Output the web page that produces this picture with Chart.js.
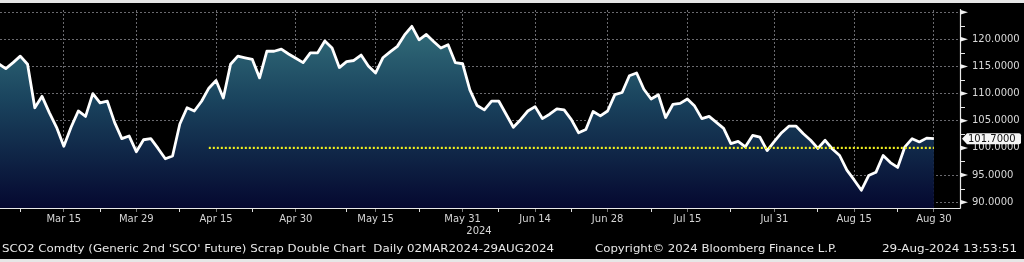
<!DOCTYPE html>
<html><head><meta charset="utf-8">
<script src="https://cdn.jsdelivr.net/npm/chart.js@4.4.1/dist/chart.umd.min.js"></script>
<style>
html,body{margin:0;padding:0;background:#000;overflow:hidden;}
canvas{display:block;}
</style></head><body>
<canvas id="c" width="1024" height="262"></canvas>
<script>
// ---------- data ----------
const startDate = '2024-03-04';           // first weekday of the series (daily, weekdays)
const prices = [
 115.5,114.6,115.7,116.9,115.4,107.4,109.5,106.5,103.8,100.3,
 103.8,106.8,105.8,110.0,108.3,108.6,104.7,101.7,102.2, 99.3,
 101.5,101.7, 99.9, 98.0, 98.5,104.4,107.4,106.8,108.6,111.0,
 112.4,109.2,115.4,116.9,116.6,116.3,112.9,117.8,117.8,118.2,
 117.3,116.5,115.7,117.5,117.5,119.7,118.4,114.8,115.9,116.1,
 117.1,115.1,113.8,116.6,117.7,118.7,120.8,122.4,119.9,120.9,
 119.6,118.4,119.0,115.7,115.5,110.7,107.8,107.0,108.6,108.6,
 106.2,103.8,105.2,106.8,107.6,105.4,106.2,107.2,107.0,105.2,
 102.8,103.4,106.7,105.9,106.8,109.8,110.2,113.3,113.8,110.8,
 109.0,109.8,105.6,108.0,108.2,109.0,107.7,105.4,105.8,104.7,
 103.6,100.8,101.2,100.2,102.3,102.0, 99.5,101.2,102.8,104.0,
 104.0,102.6,101.4, 99.9,101.4, 99.8, 98.6, 95.9, 94.1, 92.2,
  94.9, 95.5, 98.6, 97.3, 96.4,100.2,101.7,101.1,101.8,101.7
];
const majorTickLabels = ['Mar 15','Mar 29','Apr 15','Apr 30','May 15','May 31','Jun 14','Jun 28','Jul 15','Jul 31','Aug 15','Aug 30'];
const minorTickLabels = ['Mar 7','Mar 22','Apr 8','Apr 22','May 9','May 23','Jun 7','Jun 21','Jul 8','Jul 23','Aug 8','Aug 23'];
const yearLabel = '2024';
const yTickValues = [90,95,100,105,110,115,120,125];
const yMinorTickValues = [92.5,97.5,102.5,107.5,112.5,117.5,122.5];
const refLevel = 100.0;
const refStartLabel = 'Apr 12';
const lastValueText = '101.7000';
const footerLeft = "SCO2 Comdty (Generic 2nd 'SCO' Future) Scrap Double Chart  Daily 02MAR2024-29AUG2024";
const footerMid = 'Copyright\u00A9 2024 Bloomberg Finance L.P.';
const footerRight = '29-Aug-2024 13:53:51';

// ---------- helpers ----------
const monthNames=['Jan','Feb','Mar','Apr','May','Jun','Jul','Aug','Sep','Oct','Nov','Dec'];
function weekdayLabels(start,n){
  const out=[]; const d=new Date(start+'T00:00:00Z');
  while(out.length<n){ const wd=d.getUTCDay(); if(wd!==0&&wd!==6) out.push(monthNames[d.getUTCMonth()]+' '+d.getUTCDate()); d.setUTCDate(d.getUTCDate()+1); }
  return out;
}
const dateLabels = weekdayLabels(startDate, prices.length);
const tickList = majorTickLabels.map(l=>({idx:dateLabels.indexOf(l),label:l,major:true}))
  .concat(minorTickLabels.map(l=>({idx:dateLabels.indexOf(l),label:'',major:false})))
  .sort((a,b)=>a.idx-b.idx);
const pricePoints = prices.map((v,i)=>({x:i,y:v}));
const refPoints = [{x:dateLabels.indexOf(refStartLabel),y:refLevel},{x:prices.length-1,y:refLevel}];
const lastValue = prices[prices.length-1];

const FONT = 'DejaVu Sans';
const gridCol = 'rgba(125,125,130,0.85)';

function fitText(ctx,text,x,y,w){
  const m=ctx.measureText(text).width;
  ctx.save(); ctx.translate(x,y); ctx.scale(w/m,1); ctx.fillText(text,0,0); ctx.restore();
}

const bbgPlugin = {
  id:'bbg',
  beforeDraw(chart){
    const c=chart.ctx; c.save(); c.fillStyle='#000'; c.fillRect(0,0,chart.width,chart.height); c.restore();
  },
  afterDraw(chart){
    const c=chart.ctx, a=chart.chartArea, ys=chart.scales.y;
    c.save();
    // outer light strips
    c.fillStyle='#e6e6e6'; c.fillRect(0,0,chart.width,3); c.fillRect(0,259,chart.width,3);
    // axis lines
    c.strokeStyle='#e8e8e8'; c.lineWidth=1.2;
    c.beginPath(); c.moveTo(a.left,a.bottom+0.5); c.lineTo(a.right+0.5,a.bottom+0.5);
    c.moveTo(a.right+0.5,a.top-1); c.lineTo(a.right+0.5,a.bottom+0.5); c.stroke();
    // y tick arrows
    c.fillStyle='#f0f0f0';
    yTickValues.forEach(v=>{ const py=ys.getPixelForValue(v);
      c.beginPath(); c.moveTo(a.right,py-2.5); c.lineTo(a.right+8,py); c.lineTo(a.right,py+2.5); c.closePath(); c.fill(); });
    c.beginPath();
    yMinorTickValues.forEach(v=>{ const py=Math.round(ys.getPixelForValue(v))+0.5; c.moveTo(a.right,py); c.lineTo(a.right+5,py); });
    c.lineWidth=1; c.stroke();
    // year label
    c.fillStyle='#d6d6d6'; c.font='10px '+FONT; c.textAlign='center'; c.textBaseline='middle';
    c.fillText(yearLabel,479,231);
    // last value tag
    const py=ys.getPixelForValue(lastValue);
    c.fillStyle='#f6f6f6';
    c.beginPath(); c.moveTo(a.right+2,py); c.lineTo(a.right+7,py-5.5); c.lineTo(1019,py-5.5);
    c.quadraticCurveTo(1021,py-5.5,1021,py-3.5); c.lineTo(1021,py+3.5); c.quadraticCurveTo(1021,py+5.5,1019,py+5.5);
    c.lineTo(a.right+7,py+5.5); c.closePath(); c.fill();
    c.fillStyle='#111'; c.textAlign='left'; c.font='10px '+FONT;
    c.fillText(lastValueText,968,py+0.5);
    // footer
    c.fillStyle='#e8e8e8'; c.font='11px '+FONT; c.textAlign='left'; c.textBaseline='middle';
    fitText(c,footerLeft,2,249,552);
    fitText(c,footerMid,595,249,242);
    fitText(c,footerRight,882,249,135);
    c.restore();
  }
};

const ctx=document.getElementById('c').getContext('2d');
new Chart(ctx,{
  type:'line',
  data:{datasets:[
    {data:pricePoints, borderColor:'#ffffff', borderWidth:2.8, pointRadius:0, tension:0,
     borderJoinStyle:'round', fill:'start', order:1,
     backgroundColor:(cx)=>{ const ch=cx.chart, ar=ch.chartArea; if(!ar) return '#1a3a5a';
       const g=ch.ctx.createLinearGradient(0,ar.top,0,ar.bottom);
       g.addColorStop(0,'rgb(56,118,128)'); g.addColorStop(0.45,'rgb(26,68,94)'); g.addColorStop(1,'rgb(5,8,48)'); return g; }},
    {data:refPoints, borderColor:'#f0f020', borderWidth:2.2, borderDash:[2,2], pointRadius:0, fill:false, order:0}
  ]},
  options:{
    responsive:false, animation:false, devicePixelRatio:1,
    layout:{padding:{top:4,left:0,right:0,bottom:0}},
    plugins:{legend:{display:false},tooltip:{enabled:false}},
    scales:{
      x:{type:'linear', position:'bottom', min:0.2, max:132.6, z:1,
        afterBuildTicks:(s)=>{ s.ticks=tickList.map(t=>({value:t.idx})); },
        afterFit:(s)=>{ s.height=54; },
        ticks:{autoSkip:false, maxRotation:0, minRotation:0, padding:1, color:'#d4d4d4',
          font:{family:FONT,size:10}, callback:(v,i)=> tickList[i] ? tickList[i].label : ''},
        grid:{lineWidth:1, tickLength:4,
          color:(cx)=> (tickList[cx.index] && tickList[cx.index].major) ? gridCol : 'rgba(0,0,0,0)',
          tickColor:(cx)=> (tickList[cx.index] && tickList[cx.index].major) ? '#777' : '#dddddd'},
        border:{display:false, dash:[2,2]}
      },
      y:{type:'linear', position:'right', min:88.93, max:125.4, z:1,
        afterBuildTicks:(s)=>{ s.ticks=yTickValues.map(v=>({value:v})); },
        afterFit:(s)=>{ s.width=64; },
        ticks:{padding:4, color:'#d8d8d8', font:{family:FONT,size:10},
          callback:(v)=> v===125 ? '' : Number(v).toFixed(4)},
        grid:{lineWidth:1, tickLength:8, tickColor:'rgba(0,0,0,0)',
          color:(cx)=> (cx.tick && cx.tick.value===refLevel) ? 'rgba(0,0,0,0)' : gridCol},
        border:{display:false, dash:[2,2]}
      }
    }
  },
  plugins:[bbgPlugin]
});
</script>
</body></html>
